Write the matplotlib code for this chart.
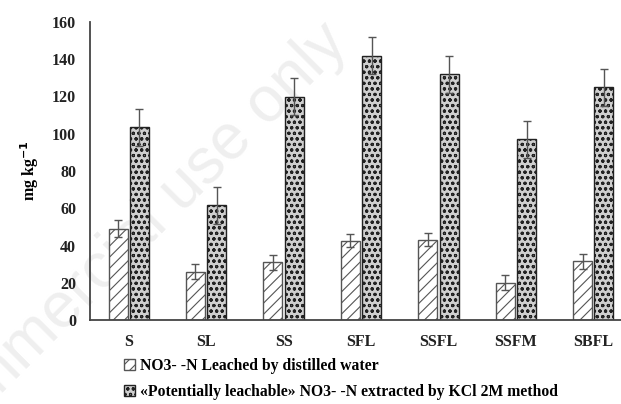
import matplotlib
matplotlib.use("Agg")
import matplotlib.pyplot as plt
import numpy as np

plt.rcParams["font.family"] = ["Liberation Serif", "DejaVu Serif"]
plt.rcParams["font.weight"] = "bold"
plt.rcParams["hatch.linewidth"] = 0.8

# data
categories = ["S", "SL", "SS", "SFL", "SSFL", "SSFM", "SBFL"]
leached = [49, 26, 31, 42.5, 43, 20, 31.5]
leached_err = [4.5, 4, 4, 3.5, 3.5, 4, 4]
kcl = [103.5, 61.5, 120, 142, 132, 97, 125]
kcl_err = [10, 10, 10, 10, 10, 10, 10]
yticks = [0, 20, 40, 60, 80, 100, 120, 140, 160]

fig = plt.figure(figsize=(6.21, 4.04), dpi=100)
ax = fig.add_axes([90 / 621, 1 - 320 / 404, 542 / 621, 298 / 404])
ax.patch.set_visible(False)

x = np.arange(len(categories))
w = 0.245
gap = 0.015
err_style = dict(ecolor="#555555", elinewidth=1.0, capsize=3, capthick=1.0)

ax.bar(x - w / 2 - gap, leached, w, yerr=leached_err, color="white",
       edgecolor="#555555", hatch="///", linewidth=1.0, error_kw=err_style,
       label="NO3- -N Leached by distilled water")
ax.bar(x + w / 2 + gap, kcl, w, yerr=kcl_err, color="#cfcfcf",
       edgecolor="#222222", hatch="ooo", linewidth=1.0, error_kw=err_style,
       label="«Potentially leachable» NO3- -N extracted by KCl 2M method")

ax.set_xlim(-0.5, 6.5)
ax.set_ylim(0, 160)
ax.set_yticks(yticks)
ax.set_xticks(x)
ax.set_xticklabels(categories)
ax.tick_params(axis="both", length=0, labelsize=11.5, colors="#222222")
ax.tick_params(axis="x", pad=10)
ax.tick_params(axis="y", pad=10)
for s in ["top", "right"]:
    ax.spines[s].set_visible(False)
for s in ["left", "bottom"]:
    ax.spines[s].set_color("#444444")
    ax.spines[s].set_linewidth(1.3)

ax.set_ylabel("mg kg$^{-1}$", fontsize=11.5, fontweight="bold", labelpad=8)

ax.legend(loc="upper left", bbox_to_anchor=(124 / 621, 1 - 358 / 404),
          bbox_transform=fig.transFigure, frameon=False, fontsize=11.3,
          handlelength=0.7, handleheight=0.7, handletextpad=0.3,
          labelspacing=0.65, borderpad=0, borderaxespad=0)

# watermark
fig.text(350 / 621, 1 - 45 / 404, "Non-commercial use only", fontsize=46,
         color="#efefef", rotation=45, rotation_mode="anchor",
         ha="right", va="baseline", fontweight="normal",
         family=["Liberation Sans", "DejaVu Sans"], zorder=-1)

fig.savefig("out.png", dpi=100)
